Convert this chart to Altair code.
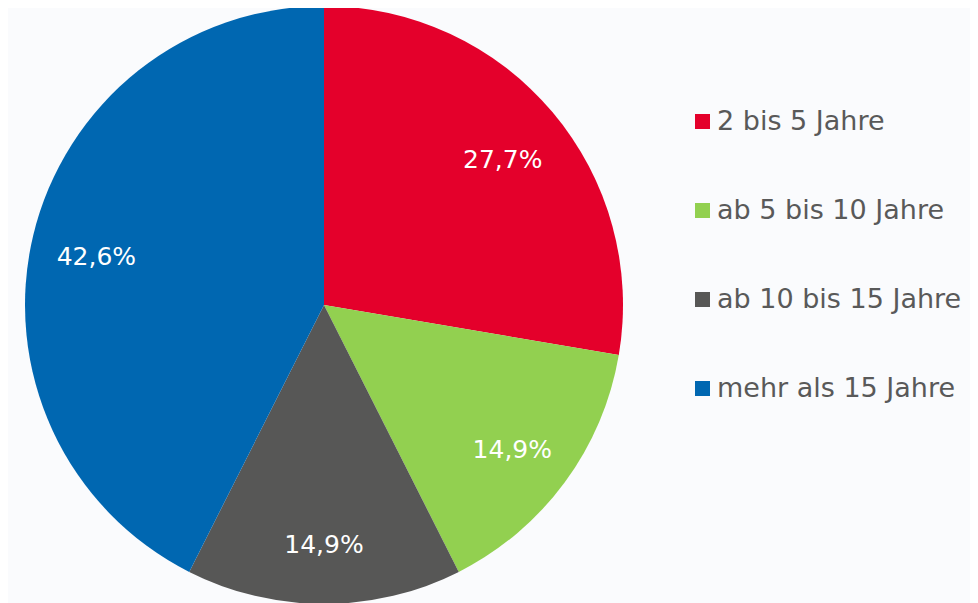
import altair as alt
import pandas as pd

categories = ["2 bis 5 Jahre", "ab 5 bis 10 Jahre", "ab 10 bis 15 Jahre", "mehr als 15 Jahre"]
shares = [27.7, 14.9, 14.9, 42.6]
colors = ["#e4002b", "#92d050", "#575756", "#0067b1"]

labels = [f"{v:.1f}".replace(".", ",") + "%" for v in shares]

df = pd.DataFrame({
    "cat": categories,
    "share": shares,
    "order": list(range(len(categories))),
    "label": labels,
})

base = alt.Chart(df).encode(
    theta=alt.Theta("share:Q", stack=True),
    order=alt.Order("order:Q"),
)

pie = base.mark_arc(radius=299).encode(
    color=alt.Color(
        "cat:N",
        scale=alt.Scale(domain=categories, range=colors),
        sort=categories,
        legend=alt.Legend(
            title=None,
            orient="none",
            legendX=681,
            legendY=100,
            symbolType="square",
            symbolSize=225,
            symbolStrokeWidth=0,
            labelFontSize=27,
            labelFont="DejaVu Sans",
            labelColor="#595959",
            labelOffset=1,
            labelLimit=400,
            rowPadding=61,
            padding=0,
            symbolOffset=0,
        ),
    )
)

text = base.mark_text(radius=234, dy=6, fontSize=25, font="DejaVu Sans", color="white").encode(
    text="label:N"
)

chart = (pie + text).properties(
    width=632,
    height=594,
    autosize=alt.AutoSizeParams(type="none"),
    padding={"left": 0, "top": 0, "right": 330, "bottom": 1},
    background="#fafbfd",
).configure_view(stroke=None)

chart.save("out.html", embed_options={"renderer": "svg", "actions": False})
